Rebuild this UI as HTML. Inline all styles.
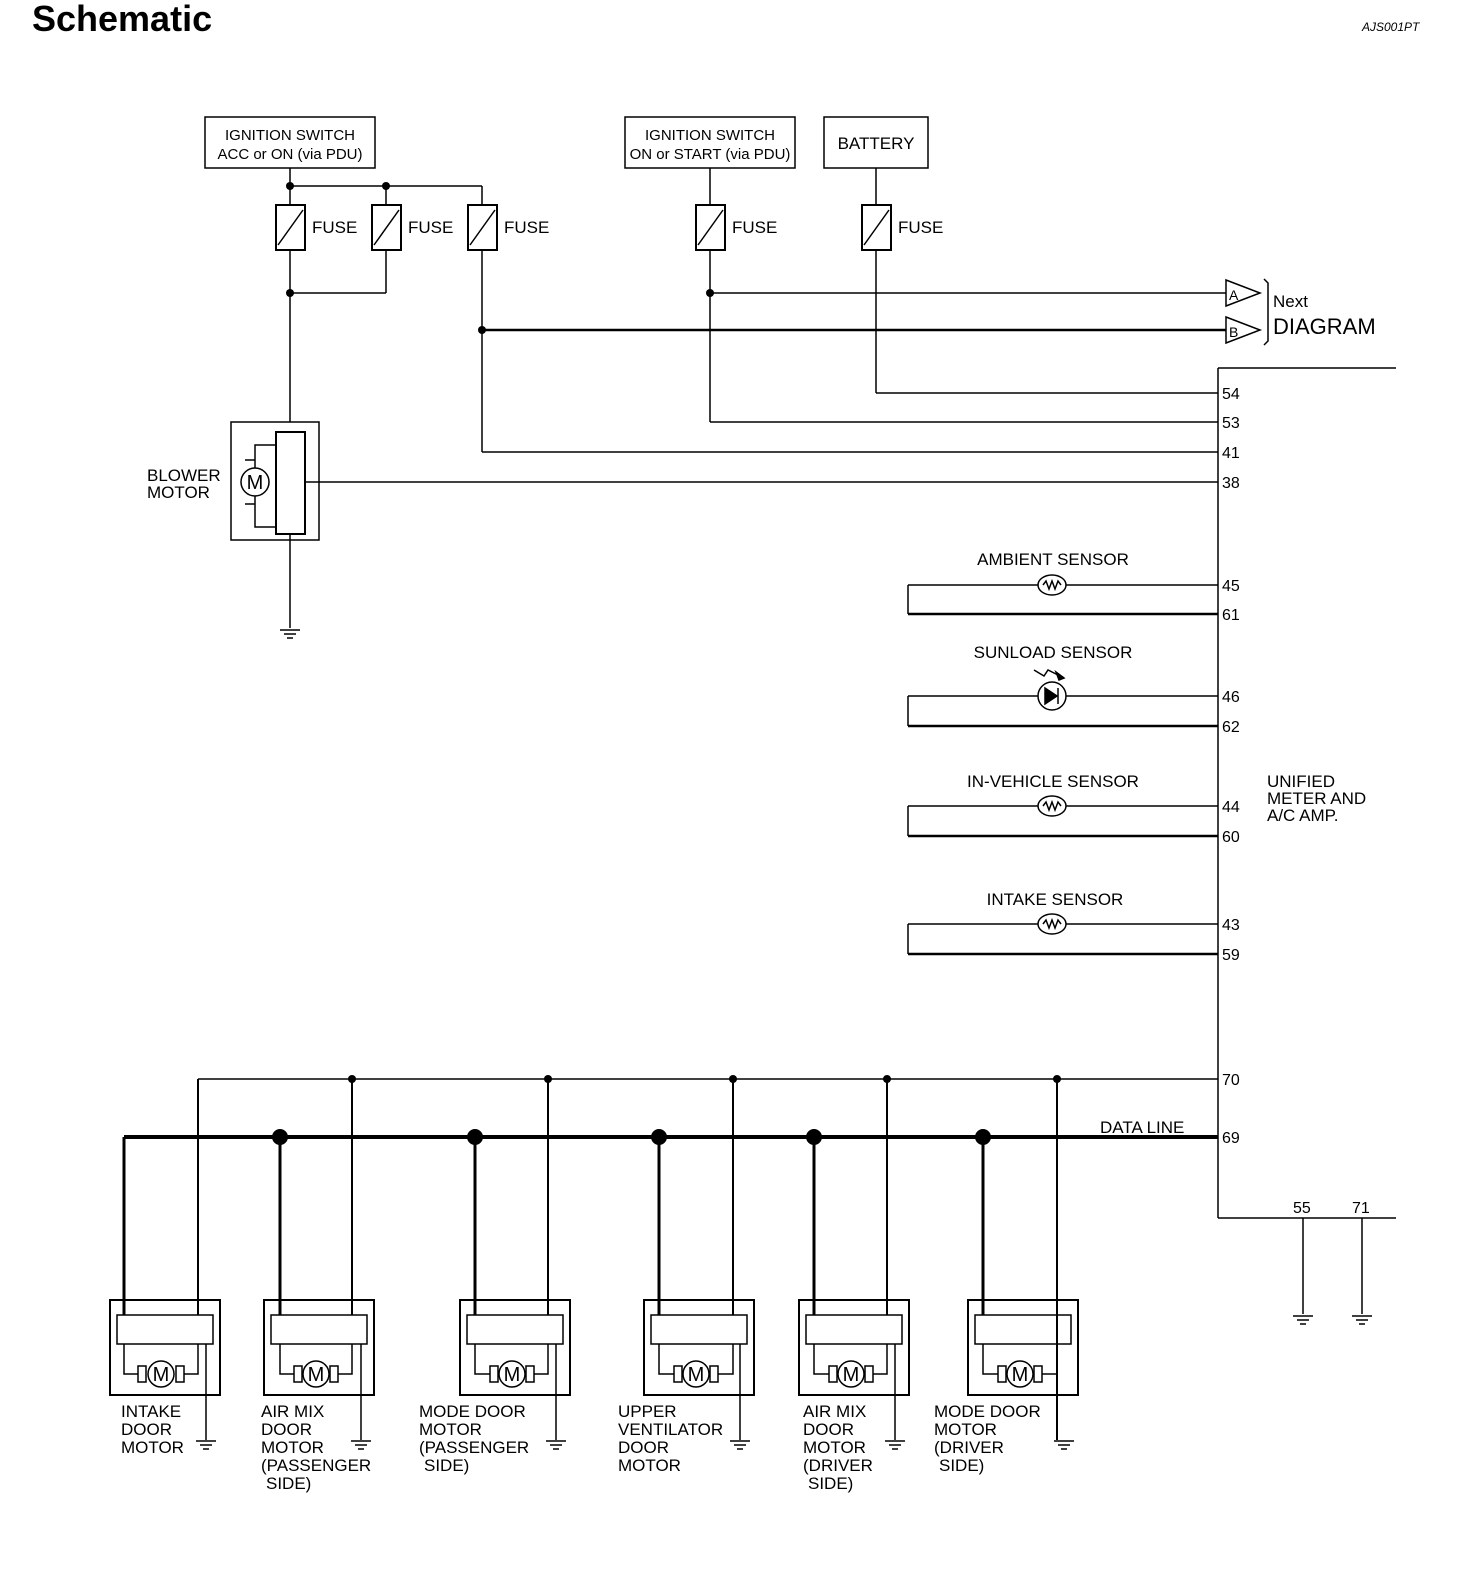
<!DOCTYPE html>
<html><head><style>html,body{margin:0;padding:0;background:#fff;overflow:hidden;width:1472px;height:1582px}svg{display:block}text{font-family:"Liberation Sans",sans-serif;fill:#000}</style></head><body>
<svg width="1472" height="1582" viewBox="0 0 1472 1582" xmlns="http://www.w3.org/2000/svg">
<defs>
<g id="fuse"><rect x="-14" y="0" width="29" height="45" fill="#fff" stroke="#000" stroke-width="2"/><line x1="-12" y1="40" x2="13" y2="5" stroke="#000" stroke-width="1.5"/></g>
<g id="gnd"><line x1="-10" y1="0" x2="10" y2="0"/><line x1="-6" y1="4" x2="6" y2="4"/><line x1="-3" y1="8" x2="3" y2="8"/></g>
<g id="therm"><ellipse cx="0" cy="0" rx="14" ry="10" fill="#fff"/><polyline points="-9,0 -6,-4 -3,4 0,-4 3,4 6,-4 9,0" fill="none"/></g>
</defs>
<text x="32" y="31" font-size="36" font-weight="bold">Schematic</text>
<text x="1362" y="31" font-size="12" font-style="italic">AJS001PT</text>
<g stroke="#000" stroke-width="1.5" fill="none">
<rect x="205" y="117" width="170" height="51"/>
<rect x="625" y="117" width="170" height="51"/>
<rect x="824" y="117" width="104" height="51"/>
<line x1="290" y1="168" x2="290" y2="422"/>
<line x1="290" y1="186" x2="482" y2="186"/>
<line x1="386" y1="186" x2="386" y2="293"/>
<line x1="290" y1="293" x2="386" y2="293"/>
<line x1="482" y1="186" x2="482" y2="452"/>
<line x1="482" y1="452" x2="1218" y2="452"/>
<line x1="710" y1="168" x2="710" y2="422"/>
<line x1="710" y1="422" x2="1218" y2="422"/>
<line x1="710" y1="293" x2="1226" y2="293"/>
<line x1="482" y1="330" x2="1226" y2="330" stroke-width="2.5"/>
<line x1="876" y1="168" x2="876" y2="393"/>
<line x1="876" y1="393" x2="1218" y2="393"/>
<polygon points="1226,280 1260,293 1226,306" fill="#fff"/>
<polygon points="1226,317 1260,330 1226,343" fill="#fff"/>
<path d="M1264,279 L1268,283 L1268,341 L1264,345"/>
<line x1="1218" y1="368" x2="1218" y2="1218"/>
<line x1="1218" y1="368" x2="1396" y2="368"/>
<line x1="1218" y1="1218" x2="1396" y2="1218"/>
<rect x="231" y="422" width="88" height="118"/>
<rect x="276" y="432" width="29" height="102" stroke-width="2"/>
<line x1="305" y1="482" x2="1218" y2="482"/>
<line x1="290" y1="534" x2="290" y2="628"/>
<circle cx="255" cy="482" r="14" fill="#fff"/>
<path d="M255,468 V460 H245 M255,496 V504 H245 M255,468 V445 H276 M255,496 V527 H276" />
<use href="#gnd" x="290" y="630"/>
</g>
<g stroke="#000" stroke-width="1.5" fill="none">
<line x1="908" y1="585" x2="1218" y2="585"/><line x1="908" y1="614" x2="1218" y2="614" stroke-width="2.5"/><line x1="908" y1="585" x2="908" y2="614"/>
<line x1="908" y1="696" x2="1218" y2="696"/><line x1="908" y1="726" x2="1218" y2="726" stroke-width="2.5"/><line x1="908" y1="696" x2="908" y2="726"/>
<line x1="908" y1="806" x2="1218" y2="806"/><line x1="908" y1="836" x2="1218" y2="836" stroke-width="2.5"/><line x1="908" y1="806" x2="908" y2="836"/>
<line x1="908" y1="924" x2="1218" y2="924"/><line x1="908" y1="954" x2="1218" y2="954" stroke-width="2.5"/><line x1="908" y1="924" x2="908" y2="954"/>
<use href="#therm" x="1052" y="585"/><use href="#therm" x="1052" y="806"/><use href="#therm" x="1052" y="924"/>
<circle cx="1052" cy="696" r="14" fill="#fff"/>
<polygon points="1045,688 1045,704 1057,696" fill="#000"/><line x1="1058" y1="688" x2="1058" y2="704"/>
<path d="M1034,670 L1044,676 L1048,670 L1060,676"/><polygon points="1064,678 1056,672 1059,680" fill="#000"/>
<line x1="198" y1="1079" x2="1218" y2="1079"/>
<line x1="124" y1="1137" x2="1218" y2="1137" stroke-width="4"/>
<line x1="1303" y1="1218" x2="1303" y2="1314"/><line x1="1362" y1="1218" x2="1362" y2="1314"/>
<use href="#gnd" x="1303" y="1316"/><use href="#gnd" x="1362" y="1316"/>
</g>
<g fill="#000">
<circle cx="290" cy="186" r="4"/><circle cx="386" cy="186" r="4"/><circle cx="290" cy="293" r="4"/><circle cx="710" cy="293" r="4"/><circle cx="482" cy="330" r="4"/>
<circle cx="352" cy="1079" r="4"/><circle cx="548" cy="1079" r="4"/><circle cx="733" cy="1079" r="4"/><circle cx="887" cy="1079" r="4"/><circle cx="1057" cy="1079" r="4"/>
<circle cx="280" cy="1137" r="8"/><circle cx="475" cy="1137" r="8"/><circle cx="659" cy="1137" r="8"/><circle cx="814" cy="1137" r="8"/><circle cx="983" cy="1137" r="8"/>
</g>
<use href="#fuse" x="290" y="205"/><use href="#fuse" x="386" y="205"/><use href="#fuse" x="482" y="205"/><use href="#fuse" x="710" y="205"/><use href="#fuse" x="876" y="205"/>
<g stroke="#000" fill="none" stroke-width="1.5">
<g transform="translate(110,0)"><rect x="0" y="1300" width="110" height="95" stroke-width="2"/><rect x="7" y="1315" width="96" height="29" fill="#fff"/><line x1="14" y1="1137" x2="14" y2="1315" stroke-width="3"/><line x1="88" y1="1079" x2="88" y2="1315" stroke-width="2"/><path d="M14,1344 V1374 H30 M88,1344 V1374 H72"/><rect x="28" y="1366" width="8" height="16" fill="#fff"/><rect x="66" y="1366" width="8" height="16" fill="#fff"/><circle cx="51" cy="1374" r="13" fill="#fff"/><line x1="96" y1="1344" x2="96" y2="1440"/><use href="#gnd" x="96" y="1441"/></g>
<g transform="translate(264,0)"><rect x="0" y="1300" width="110" height="95" stroke-width="2"/><rect x="7" y="1315" width="96" height="29" fill="#fff"/><line x1="16" y1="1137" x2="16" y2="1315" stroke-width="3"/><line x1="88" y1="1079" x2="88" y2="1315" stroke-width="2"/><path d="M16,1344 V1374 H32 M88,1344 V1374 H72"/><rect x="30" y="1366" width="8" height="16" fill="#fff"/><rect x="66" y="1366" width="8" height="16" fill="#fff"/><circle cx="52" cy="1374" r="13" fill="#fff"/><line x1="97" y1="1344" x2="97" y2="1440"/><use href="#gnd" x="97" y="1441"/></g>
<g transform="translate(460,0)"><rect x="0" y="1300" width="110" height="95" stroke-width="2"/><rect x="7" y="1315" width="96" height="29" fill="#fff"/><line x1="15" y1="1137" x2="15" y2="1315" stroke-width="3"/><line x1="88" y1="1079" x2="88" y2="1315" stroke-width="2"/><path d="M15,1344 V1374 H32 M88,1344 V1374 H72"/><rect x="30" y="1366" width="8" height="16" fill="#fff"/><rect x="66" y="1366" width="8" height="16" fill="#fff"/><circle cx="52" cy="1374" r="13" fill="#fff"/><line x1="96" y1="1344" x2="96" y2="1440"/><use href="#gnd" x="96" y="1441"/></g>
<g transform="translate(644,0)"><rect x="0" y="1300" width="110" height="95" stroke-width="2"/><rect x="7" y="1315" width="96" height="29" fill="#fff"/><line x1="15" y1="1137" x2="15" y2="1315" stroke-width="3"/><line x1="89" y1="1079" x2="89" y2="1315" stroke-width="2"/><path d="M15,1344 V1374 H32 M89,1344 V1374 H72"/><rect x="30" y="1366" width="8" height="16" fill="#fff"/><rect x="66" y="1366" width="8" height="16" fill="#fff"/><circle cx="52" cy="1374" r="13" fill="#fff"/><line x1="96" y1="1344" x2="96" y2="1440"/><use href="#gnd" x="96" y="1441"/></g>
<g transform="translate(799,0)"><rect x="0" y="1300" width="110" height="95" stroke-width="2"/><rect x="7" y="1315" width="96" height="29" fill="#fff"/><line x1="15" y1="1137" x2="15" y2="1315" stroke-width="3"/><line x1="88" y1="1079" x2="88" y2="1315" stroke-width="2"/><path d="M15,1344 V1374 H32 M88,1344 V1374 H72"/><rect x="30" y="1366" width="8" height="16" fill="#fff"/><rect x="66" y="1366" width="8" height="16" fill="#fff"/><circle cx="52" cy="1374" r="13" fill="#fff"/><line x1="96" y1="1344" x2="96" y2="1440"/><use href="#gnd" x="96" y="1441"/></g>
<g transform="translate(968,0)"><rect x="0" y="1300" width="110" height="95" stroke-width="2"/><rect x="7" y="1315" width="96" height="29" fill="#fff"/><line x1="15" y1="1137" x2="15" y2="1315" stroke-width="3"/><line x1="89" y1="1079" x2="89" y2="1440" stroke-width="2"/><path d="M15,1344 V1374 H32 M89,1374 H72"/><rect x="30" y="1366" width="8" height="16" fill="#fff"/><rect x="66" y="1366" width="8" height="16" fill="#fff"/><circle cx="52" cy="1374" r="13" fill="#fff"/><use href="#gnd" x="96" y="1441"/></g>
</g>
<g font-size="17">
<text x="161" y="1381" text-anchor="middle" font-size="20">M</text><text x="316" y="1381" text-anchor="middle" font-size="20">M</text><text x="512" y="1381" text-anchor="middle" font-size="20">M</text><text x="696" y="1381" text-anchor="middle" font-size="20">M</text><text x="851" y="1381" text-anchor="middle" font-size="20">M</text><text x="1020" y="1381" text-anchor="middle" font-size="20">M</text>
<text x="255" y="489" text-anchor="middle" font-size="20">M</text>
<text x="290" y="140" text-anchor="middle" font-size="15">IGNITION SWITCH</text><text x="290" y="159" text-anchor="middle" font-size="15">ACC or ON (via PDU)</text>
<text x="710" y="140" text-anchor="middle" font-size="15">IGNITION SWITCH</text><text x="710" y="159" text-anchor="middle" font-size="15">ON or START (via PDU)</text>
<text x="876" y="149" text-anchor="middle">BATTERY</text>
<text x="312" y="233">FUSE</text><text x="408" y="233">FUSE</text><text x="504" y="233">FUSE</text><text x="732" y="233">FUSE</text><text x="898" y="233">FUSE</text>
<text x="1273" y="307">Next</text><text x="1273" y="334" font-size="22">DIAGRAM</text>
<text x="1229" y="300" font-size="14">A</text><text x="1229" y="337" font-size="14">B</text>
<text x="147" y="481">BLOWER</text><text x="147" y="498">MOTOR</text>
<g font-size="16"><text x="1222" y="399">54</text><text x="1222" y="428">53</text><text x="1222" y="458">41</text><text x="1222" y="488">38</text><text x="1222" y="591">45</text><text x="1222" y="620">61</text><text x="1222" y="702">46</text><text x="1222" y="732">62</text><text x="1222" y="812">44</text><text x="1222" y="842">60</text><text x="1222" y="930">43</text><text x="1222" y="960">59</text><text x="1222" y="1085">70</text><text x="1222" y="1143">69</text><text x="1293" y="1213">55</text><text x="1352" y="1213">71</text></g>
<text x="1053" y="565" text-anchor="middle">AMBIENT SENSOR</text>
<text x="1053" y="658" text-anchor="middle">SUNLOAD SENSOR</text>
<text x="1053" y="787" text-anchor="middle">IN-VEHICLE SENSOR</text>
<text x="1055" y="905" text-anchor="middle">INTAKE SENSOR</text>
<text x="1267" y="787">UNIFIED</text><text x="1267" y="804">METER AND</text><text x="1267" y="821">A/C AMP.</text>
<text x="1100" y="1133">DATA LINE</text>
<text x="121" y="1417">INTAKE</text><text x="121" y="1435">DOOR</text><text x="121" y="1453">MOTOR</text>
<text x="261" y="1417">AIR MIX</text><text x="261" y="1435">DOOR</text><text x="261" y="1453">MOTOR</text><text x="261" y="1471">(PASSENGER</text><text x="266" y="1489">SIDE)</text>
<text x="419" y="1417">MODE DOOR</text><text x="419" y="1435">MOTOR</text><text x="419" y="1453">(PASSENGER</text><text x="424" y="1471">SIDE)</text>
<text x="618" y="1417">UPPER</text><text x="618" y="1435">VENTILATOR</text><text x="618" y="1453">DOOR</text><text x="618" y="1471">MOTOR</text>
<text x="803" y="1417">AIR MIX</text><text x="803" y="1435">DOOR</text><text x="803" y="1453">MOTOR</text><text x="803" y="1471">(DRIVER</text><text x="808" y="1489">SIDE)</text>
<text x="934" y="1417">MODE DOOR</text><text x="934" y="1435">MOTOR</text><text x="934" y="1453">(DRIVER</text><text x="939" y="1471">SIDE)</text>
</g>
</svg>
</body></html>
